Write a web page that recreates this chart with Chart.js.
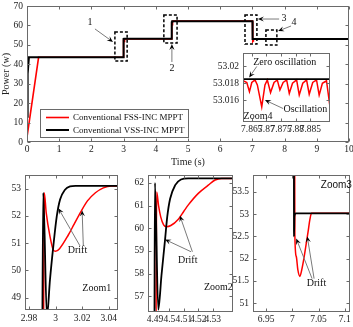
<!DOCTYPE html>
<html>
<head>
<meta charset="utf-8">
<script src="https://cdn.jsdelivr.net/npm/chart.js@4.4.0/dist/chart.umd.min.js"></script>
<style>
  body { margin: 0; background: #fff; }
  #wrap { position: relative; width: 353px; height: 327px; }
  canvas { position: absolute; }
</style>
</head>
<body>
<div id="wrap">
  <canvas id="main" width="353" height="170" style="left:0;top:0"></canvas>
  <canvas id="zoom4" width="130" height="90" style="left:205px;top:48px"></canvas>
  <canvas id="zoom1" width="122" height="157" style="left:0;top:170px"></canvas>
  <canvas id="zoom2" width="114" height="157" style="left:122px;top:170px"></canvas>
  <canvas id="zoom3" width="123" height="157" style="left:230px;top:170px"></canvas>
</div>
<script>
// FSS-INC (red) : time (s) / power (W)
const fssTime = [0, 0.36,
  2.9905, 2.9915, 2.993, 2.9958, 2.9983, 3.0, 3.003, 3.0096, 3.014, 3.019, 3.024, 3.03, 3.036, 3.042,
  4.4905, 4.4912, 4.4925, 4.494, 4.496, 4.498, 4.501, 4.5062, 4.51, 4.5131, 4.52, 4.5269, 4.5316, 4.536,
  7.003, 7.0048, 7.0075, 7.0105, 7.0143, 7.018, 7.022, 7.026, 7.03, 7.0335, 7.0365,
  7.8621, 7.8633, 7.8642, 7.8650, 7.8661, 7.8669, 7.8684, 7.8695, 7.8703, 7.8714, 7.8726, 7.8737,
  7.8746, 7.8757, 7.8769, 7.8778, 7.8789, 7.8803, 7.8812, 7.8824, 7.8837, 7.8846, 7.8858, 7.8871,
  7.8880, 7.8891, 7.8905, 7.8917, 7.893, 10];
const fssPower = [2.5, 43.6,
  43.6, 52.85, 52.1, 51.25, 50.75, 50.7, 50.8, 51.3, 51.7, 52.15, 52.55, 52.85, 53.03, 53.1,
  53.1, 61.6, 61.0, 60.5, 60.15, 60.07, 60.12, 60.4, 60.75, 61.03, 61.54, 61.9, 62.13, 62.2,
  62.2, 52.55, 52.05, 51.75, 51.6, 51.75, 52.0, 52.3, 52.6, 52.88, 53.0183,
  53.0183, 53.0181, 53.0170, 53.0181, 53.0184, 53.0178, 53.0152, 53.0178, 53.0184, 53.0169, 53.0181, 53.0184,
  53.0172, 53.0181, 53.0184, 53.0168, 53.0180, 53.0184, 53.0166, 53.0180, 53.0184, 53.0167, 53.0181, 53.0184,
  53.0166, 53.0180, 53.0183, 53.0152, 53.0183, 53.0183];

// VSS-INC (black)
const vssTime = [0, 0.02, 0.06,
  2.9895, 2.9907, 2.9935, 2.9958, 2.9983, 3.0009, 3.0034, 3.0071, 3.0109, 3.015,
  4.4895, 4.49, 4.4923, 4.4945, 4.497, 4.4985, 4.5005, 4.504, 4.508, 4.513,
  7.0028, 7.0032, 7.004, 7.0065, 7.01, 10];
const vssPower = [13, 35, 43.6,
  43.6, 52.85, 48.3, 49.66, 50.88, 51.98, 52.6, 52.96, 53.08, 53.1,
  53.1, 62.0, 56.4, 57.9, 59.5, 60.5, 61.3, 61.9, 62.15, 62.2,
  62.2, 52.5, 52.95, 53.015, 53.0185, 53.0185];

const seriesNames = ['Conventional FSS-INC MPPT', 'Conventional VSS-INC MPPT'];

const mainXTicks = [0, 1, 2, 3, 4, 5, 6, 7, 8, 9, 10];
const mainYTicks = [0, 10, 20, 30, 40, 50, 60, 70];
const zoom1XTicks = [2.98, 3, 3.02, 3.04];
const zoom1YTicks = [49, 50, 51, 52, 53];
const zoom2XTicks = [4.49, 4.5, 4.51, 4.52, 4.53];
const zoom2YTicks = [57, 58, 59, 60, 61, 62];
const zoom3XTicks = [6.95, 7, 7.05, 7.1];
const zoom3YTicks = [51, 51.5, 52, 52.5, 53, 53.5];
const zoom4XTicks = [7.865, 7.87, 7.875, 7.88, 7.885];
const zoom4YTicks = [53.016, 53.018, 53.02];

const SERIF = '"Liberation Serif", "Times New Roman", serif';
const fssPts = fssTime.map((t, i) => ({ x: t, y: fssPower[i] }));
const vssPts = vssTime.map((t, i) => ({ x: t, y: vssPower[i] }));

// box with inward ticks like matlab
const frameTicks = {
  id: 'frameTicks',
  afterDatasetsDraw(chart) {
    const { ctx, chartArea: a, scales: { x, y } } = chart;
    ctx.save();
    ctx.strokeStyle = '#6a6a6a';
    ctx.lineWidth = 1;
    const L = Math.round(a.left) + 0.5, R = Math.round(a.right) - 0.5;
    const T = Math.round(a.top) + 0.5, B = Math.round(a.bottom) - 0.5;
    ctx.strokeRect(L, T, R - L, B - T);
    ctx.beginPath();
    x.ticks.forEach(t => {
      const p = Math.round(x.getPixelForValue(t.value)) + 0.5;
      ctx.moveTo(p, B); ctx.lineTo(p, B - 3);
      ctx.moveTo(p, T); ctx.lineTo(p, T + 3);
    });
    y.ticks.forEach(t => {
      const p = Math.round(y.getPixelForValue(t.value)) + 0.5;
      ctx.moveTo(L, p); ctx.lineTo(L + 3, p);
      ctx.moveTo(R, p); ctx.lineTo(R - 3, p);
    });
    ctx.stroke();
    ctx.restore();
  }
};

function drawArrow(ctx, x0, y0, x1, y1) {
  const ang = Math.atan2(y1 - y0, x1 - x0), c = Math.cos(ang), s = Math.sin(ang);
  const L = 6, W = 2.6;
  ctx.strokeStyle = '#7a7a7a';
  ctx.lineWidth = 1;
  ctx.beginPath();
  ctx.moveTo(x0, y0);
  ctx.lineTo(x1 - c * L * 0.6, y1 - s * L * 0.6);
  ctx.stroke();
  ctx.fillStyle = '#000';
  ctx.beginPath();
  ctx.moveTo(x1, y1);
  ctx.lineTo(x1 - c * L - s * W, y1 - s * L + c * W);
  ctx.lineTo(x1 - c * L * 0.6, y1 - s * L * 0.6);
  ctx.lineTo(x1 - c * L + s * W, y1 - s * L - c * W);
  ctx.closePath();
  ctx.fill();
}

// notes are given in data units
function notesPlugin(notes) {
  return {
    id: 'notes',
    afterDraw(chart) {
      const { ctx, scales: { x, y } } = chart;
      const px = v => x.getPixelForValue(v), py = v => y.getPixelForValue(v);
      ctx.save();
      (notes.boxes || []).forEach(b => {
        ctx.strokeStyle = '#000';
        ctx.lineWidth = 1.5;
        ctx.setLineDash([3, 2]);
        ctx.strokeRect(px(b[0]), py(b[3]), px(b[1]) - px(b[0]), py(b[2]) - py(b[3]));
        ctx.setLineDash([]);
      });
      (notes.arrows || []).forEach(a => drawArrow(ctx, px(a[0]), py(a[1]), px(a[2]), py(a[3])));
      (notes.texts || []).forEach(t => {
        ctx.fillStyle = '#111';
        ctx.font = t.font || '10px ' + SERIF;
        ctx.textAlign = t.align || 'center';
        ctx.textBaseline = 'middle';
        ctx.fillText(t.text, px(t.x), py(t.y));
      });
      if (notes.legend) {
        const a = chart.chartArea;
        const lx = a.left + 13, ly = a.bottom - 33;
        ctx.fillStyle = '#fff';
        ctx.fillRect(lx, ly, 148, 28);
        ctx.strokeStyle = '#6a6a6a';
        ctx.lineWidth = 1;
        ctx.strokeRect(lx + 0.5, ly + 0.5, 148, 28);
        const rows = [{ c: '#ff0000', w: 1.6 }, { c: '#000', w: 2 }];
        rows.forEach((r, i) => {
          const yy = ly + 8.5 + i * 12.5;
          ctx.strokeStyle = r.c;
          ctx.lineWidth = r.w;
          ctx.beginPath();
          ctx.moveTo(lx + 6, yy); ctx.lineTo(lx + 29, yy);
          ctx.stroke();
          ctx.fillStyle = '#111';
          ctx.font = '9px ' + SERIF;
          ctx.textAlign = 'left';
          ctx.textBaseline = 'middle';
          ctx.fillText(seriesNames[i], lx + 33, yy + 0.5);
        });
      }
      ctx.restore();
    }
  };
}

function makeChart(id, c) {
  const tickFont = { family: SERIF, size: c.fontSize || 9.5 };
  return new Chart(document.getElementById(id), {
    type: 'line',
    data: {
      datasets: [
        { label: seriesNames[1], data: vssPts, borderColor: '#000', borderWidth: c.bw[1], order: 1 },
        { label: seriesNames[0], data: fssPts, borderColor: '#ff0000', borderWidth: c.bw[0], order: 2 }
      ]
    },
    options: {
      responsive: false,
      animation: false,
      layout: { padding: { top: c.padTop, right: c.padRight, left: 0, bottom: 0 } },
      elements: {
        point: { radius: 0 },
        line: c.smooth ? { cubicInterpolationMode: 'monotone' } : { tension: 0 }
      },
      plugins: { legend: { display: false }, tooltip: { enabled: false } },
      scales: {
        x: {
          type: 'linear', min: c.xMin, max: c.xMax,
          afterBuildTicks: s => { s.ticks = c.xTicks.map(v => ({ value: v })); },
          afterFit: s => { s.height = c.xH; s.paddingLeft = 0; s.paddingRight = 0; },
          grid: { display: false, drawTicks: false },
          border: { display: false },
          ticks: { autoSkip: false, maxRotation: 0, padding: c.xPad, color: '#222', font: tickFont,
                   callback: v => String(+v.toFixed(4)) },
          title: c.xTitle ? { display: true, text: c.xTitle, color: '#222', font: { family: SERIF, size: 10 },
                              padding: { top: 0, bottom: 2 } } : { display: false }
        },
        y: {
          min: c.yMin, max: c.yMax,
          afterBuildTicks: s => { s.ticks = c.yTicks.map(v => ({ value: v })); },
          afterFit: s => { s.width = c.yW; s.paddingTop = 0; s.paddingBottom = 0; },
          grid: { display: false, drawTicks: false },
          border: { display: false },
          ticks: { padding: 4, color: '#222', font: tickFont, callback: v => String(+v.toFixed(4)) },
          title: c.yTitle ? { display: true, text: c.yTitle, color: '#222', font: { family: SERIF, size: 10 },
                              padding: 0 } : { display: false }
        }
      }
    },
    plugins: [frameTicks, notesPlugin(c.notes || {})]
  });
}

makeChart('main', {
  xMin: 0, xMax: 10, yMin: 0, yMax: 70, xTicks: mainXTicks, yTicks: mainYTicks,
  xH: 28, yW: 27, padTop: 6, padRight: 4, xPad: 2, bw: [1.6, 2], smooth: false,
  xTitle: 'Time (s)', yTitle: 'Power (w)',
  notes: {
    boxes: [[2.73, 3.11, 41.7, 56.6], [4.25, 4.66, 51.0, 65.4], [6.77, 7.14, 50.4, 65.4], [7.42, 7.76, 49.9, 57.6]],
    arrows: [[2.11, 58.2, 2.67, 51.5], [4.5, 41.2, 4.5, 50.4], [7.83, 63.3, 7.17, 63.3], [8.2, 59.7, 7.8, 57.1]],
    texts: [
      { text: '1', x: 1.96, y: 61.4 }, { text: '2', x: 4.5, y: 37.8 },
      { text: '3', x: 7.98, y: 63.6 }, { text: '4', x: 8.29, y: 61.4 }
    ],
    legend: true
  }
});

makeChart('zoom4', {
  xMin: 7.862, xMax: 7.8917, yMin: 53.0134, yMax: 53.0216, xTicks: zoom4XTicks, yTicks: zoom4YTicks,
  xH: 16, yW: 38, padTop: 5, padRight: 5, xPad: 2, bw: [1.5, 1.8], smooth: false,
  notes: {
    arrows: [[7.8667, 53.0200, 7.8641, 53.0187], [7.8757, 53.0150, 7.8695, 53.0160]],
    texts: [
      { text: 'Zero oscillation', x: 7.8655, y: 53.0205, align: 'left' },
      { text: 'Oscillation', x: 7.8758, y: 53.0149, align: 'left' },
      { text: 'Zoom4', x: 7.8622, y: 53.0141, align: 'left' }
    ]
  }
});

makeChart('zoom1', {
  xMin: 2.977, xMax: 3.047, yMin: 48.55, yMax: 53.5, xTicks: zoom1XTicks, yTicks: zoom1YTicks,
  xH: 17, yW: 25, padTop: 5, padRight: 4, xPad: 3, bw: [1.5, 1.8], smooth: true,
  notes: {
    arrows: [[3.0184, 50.9, 3.0021, 52.28], [3.0209, 50.9, 3.0200, 52.2]],
    texts: [{ text: 'Drift', x: 3.0165, y: 50.72 }, { text: 'Zoom1', x: 3.031, y: 49.36 }]
  }
});

makeChart('zoom2', {
  xMin: 4.4852, xMax: 4.544, yMin: 56.3, yMax: 62.35, xTicks: zoom2XTicks, yTicks: zoom2YTicks,
  xH: 15, yW: 26, padTop: 5, padRight: 3, xPad: 2, bw: [1.5, 1.8], smooth: true,
  notes: {
    arrows: [[4.515, 58.96, 4.497, 59.5], [4.5159, 58.96, 4.5073, 60.55]],
    texts: [{ text: 'Drift', x: 4.5127, y: 58.6 }, { text: 'Zoom2', x: 4.5339, y: 57.38 }]
  }
});

makeChart('zoom3', {
  xMin: 6.925, xMax: 7.11, yMin: 50.8, yMax: 53.88, xTicks: zoom3XTicks, yTicks: zoom3YTicks,
  xH: 15, yW: 23, padTop: 5, padRight: 3, xPad: 2, bw: [1.5, 1.8], smooth: true,
  notes: {
    arrows: [[7.0377, 51.55, 7.0075, 52.45], [7.0415, 51.55, 7.0285, 52.5]],
    texts: [
      { text: 'Drift', x: 7.046, y: 51.44 },
      { text: 'Zoom3', x: 7.084, y: 53.66, font: '10px "Liberation Sans", Arial, sans-serif' }
    ]
  }
});
</script>
</body>
</html>
